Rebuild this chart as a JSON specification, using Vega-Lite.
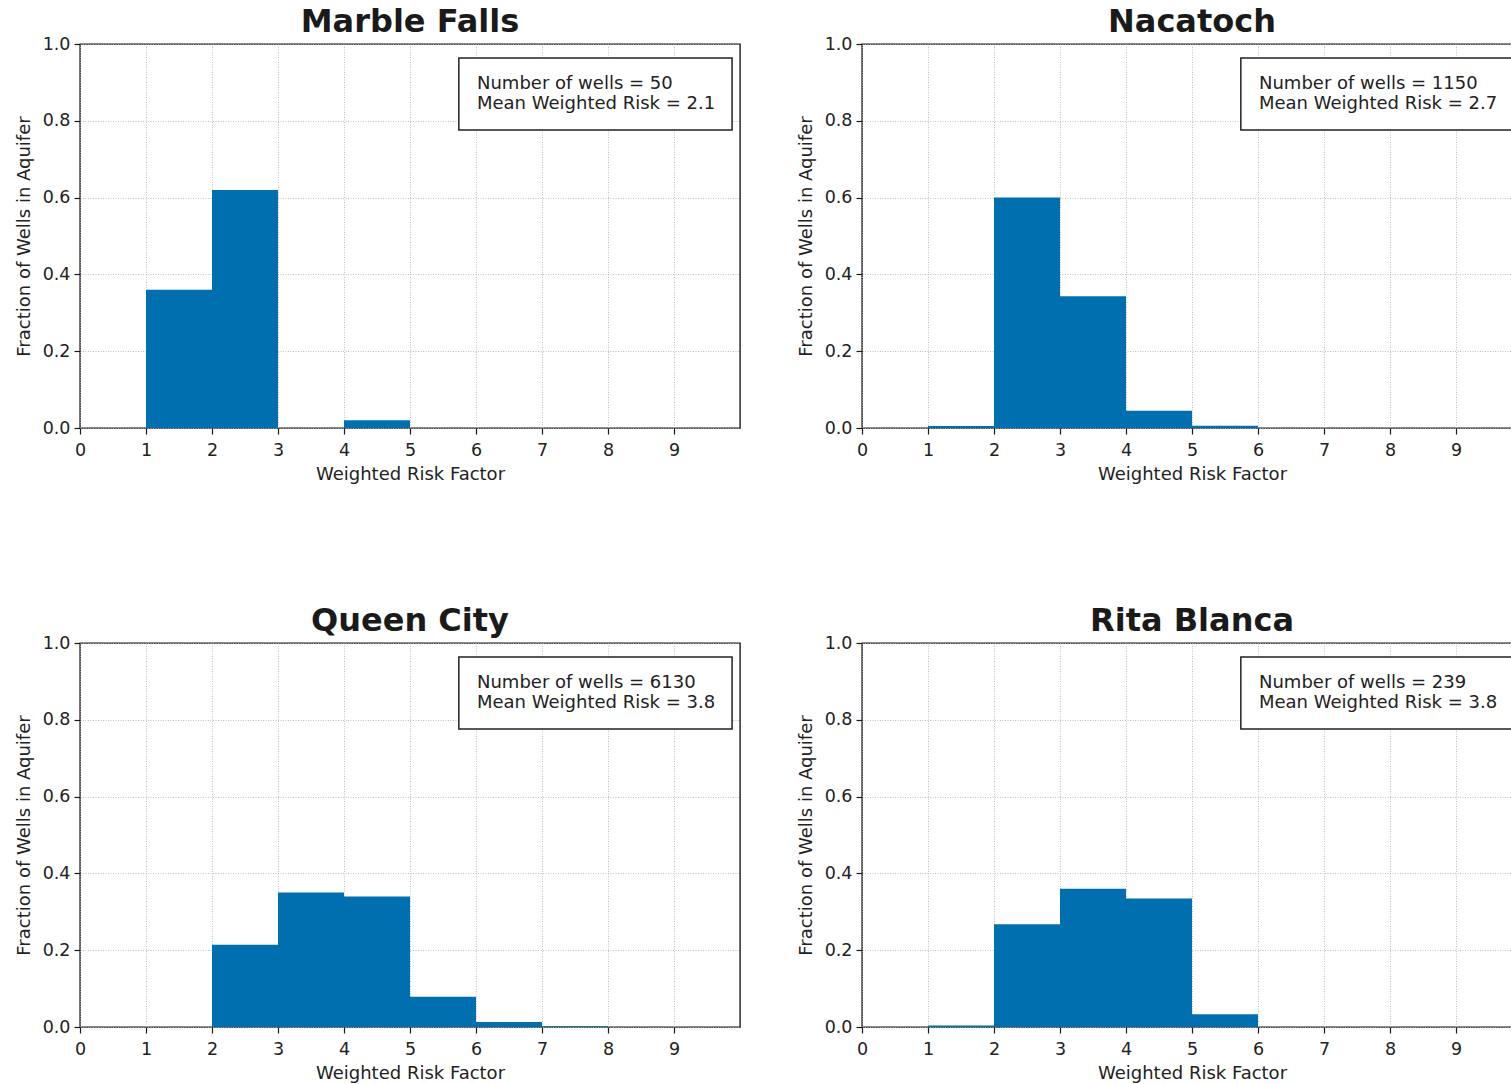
{
  "$schema": "https://vega.github.io/schema/vega-lite/v6.json",
  "background": "white",
  "padding": {"left": 14, "top": 5, "right": 0, "bottom": 0},
  "data": {
    "values": [
      {"aquifer": "Marble Falls", "lo": 1, "hi": 2, "frac": 0.36},
      {"aquifer": "Marble Falls", "lo": 2, "hi": 3, "frac": 0.62},
      {"aquifer": "Marble Falls", "lo": 4, "hi": 5, "frac": 0.02},
      {"aquifer": "Nacatoch", "lo": 1, "hi": 2, "frac": 0.0052},
      {"aquifer": "Nacatoch", "lo": 2, "hi": 3, "frac": 0.6},
      {"aquifer": "Nacatoch", "lo": 3, "hi": 4, "frac": 0.343},
      {"aquifer": "Nacatoch", "lo": 4, "hi": 5, "frac": 0.045},
      {"aquifer": "Nacatoch", "lo": 5, "hi": 6, "frac": 0.0061},
      {"aquifer": "Queen City", "lo": 2, "hi": 3, "frac": 0.214},
      {"aquifer": "Queen City", "lo": 3, "hi": 4, "frac": 0.35},
      {"aquifer": "Queen City", "lo": 4, "hi": 5, "frac": 0.34},
      {"aquifer": "Queen City", "lo": 5, "hi": 6, "frac": 0.079},
      {"aquifer": "Queen City", "lo": 6, "hi": 7, "frac": 0.013},
      {"aquifer": "Queen City", "lo": 7, "hi": 8, "frac": 0.002},
      {"aquifer": "Rita Blanca", "lo": 1, "hi": 2, "frac": 0.0042},
      {"aquifer": "Rita Blanca", "lo": 2, "hi": 3, "frac": 0.2678},
      {"aquifer": "Rita Blanca", "lo": 3, "hi": 4, "frac": 0.3598},
      {"aquifer": "Rita Blanca", "lo": 4, "hi": 5, "frac": 0.3347},
      {"aquifer": "Rita Blanca", "lo": 5, "hi": 6, "frac": 0.0335},
      {"aquifer": "Marble Falls", "label": "Number of wells = 50\nMean Weighted Risk = 2.1"},
      {"aquifer": "Nacatoch", "label": "Number of wells = 1150\nMean Weighted Risk = 2.7"},
      {"aquifer": "Queen City", "label": "Number of wells = 6130\nMean Weighted Risk = 3.8"},
      {"aquifer": "Rita Blanca", "label": "Number of wells = 239\nMean Weighted Risk = 3.8"}
    ]
  },
  "facet": {"field": "aquifer", "type": "nominal", "header": {"title": null}},
  "columns": 2,
  "spacing": {"column": 55, "row": 119},
  "resolve": {"axis": {"x": "independent", "y": "independent"}},
  "spec": {
    "width": 660,
    "height": 384,
    "layer": [
      {
        "transform": [{"filter": "isValid(datum.frac)"}],
        "mark": {"type": "rect", "color": "#006fb0"},
        "encoding": {
          "x": {"field": "lo", "type": "quantitative", "scale": {"domain": [0, 10], "nice": false},
            "axis": {"title": "Weighted Risk Factor", "values": [0,1,2,3,4,5,6,7,8,9], "format": "d"}},
          "x2": {"field": "hi"},
          "y": {"field": "frac", "type": "quantitative", "scale": {"domain": [0, 1], "nice": false},
            "axis": {"title": "Fraction of Wells in Aquifer", "values": [0,0.2,0.4,0.6,0.8,1.0], "format": ".1f"}},
          "y2": {"datum": 0}
        }
      },
      {
        "transform": [{"filter": "isValid(datum.label)"}],
        "mark": {"type": "rect", "fill": "white", "stroke": "#222", "strokeWidth": 1.5},
        "encoding": {
          "x": {"datum": 5.74, "type": "quantitative"},
          "x2": {"datum": 9.88},
          "y": {"datum": 0.9635, "type": "quantitative"},
          "y2": {"datum": 0.776}
        }
      },
      {
        "transform": [{"filter": "isValid(datum.label)"}],
        "mark": {"type": "text", "align": "left", "baseline": "middle", "lineBreak": "\n", "lineHeight": 20, "font": "DejaVu Sans", "fontSize": 18, "color": "#222"},
        "encoding": {
          "x": {"datum": 6.015, "type": "quantitative"},
          "y": {"datum": 0.8958, "type": "quantitative"},
          "text": {"field": "label", "type": "nominal"}
        }
      }
    ]
  },
  "config": {
    "font": "DejaVu Sans",
    "view": {"stroke": "#1a1a1a", "strokeWidth": 1.4},
    "header": {"labelFontSize": 32, "labelFontWeight": "bold", "labelFont": "DejaVu Sans", "labelColor": "#1a1a1a", "labelPadding": -4},
    "axis": {
      "domain": false,
      "grid": true,
      "gridColor": "#b0b0b0",
      "gridDash": [1, 1.5],
      "gridWidth": 0.8,
      "ticks": true,
      "tickColor": "#1a1a1a",
      "tickSize": 6,
      "tickWidth": 1.2,
      "labelFont": "DejaVu Sans",
      "labelFontSize": 17.5,
      "labelColor": "#222",
      "labelPadding": 4,
      "titleFont": "DejaVu Sans",
      "titleFontSize": 18,
      "titleFontWeight": "normal",
      "titleColor": "#222",
      "labelFlush": false,
      "labelOverlap": false
    },
    "axisY": {"titlePadding": 9},
    "axisX": {"titlePadding": 7, "labelPadding": 7}
  }
}
